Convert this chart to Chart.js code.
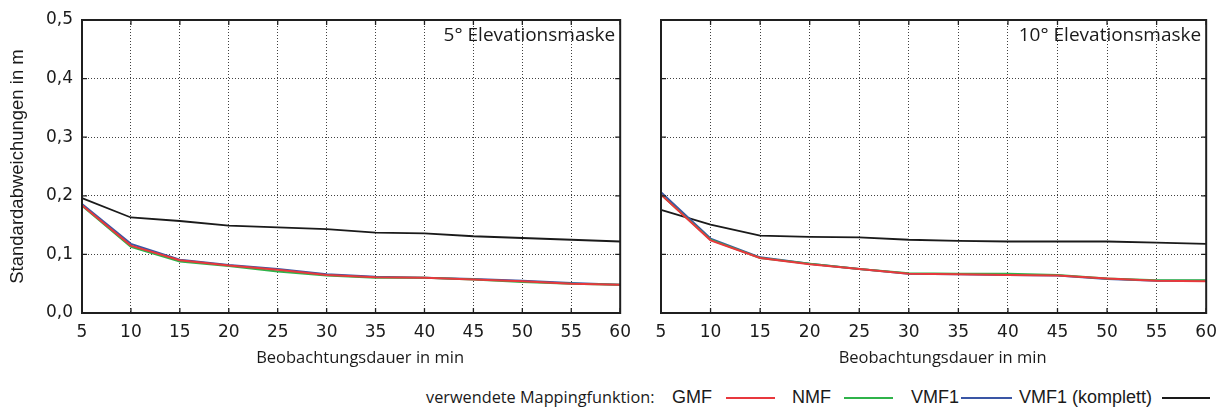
<!DOCTYPE html>
<html><head><meta charset="utf-8">
<script src="https://cdn.jsdelivr.net/npm/chart.js@4.4.1/dist/chart.umd.min.js"></script>
<style>
html,body{margin:0;padding:0;background:#fff;width:1226px;height:409px;overflow:hidden;position:relative}
canvas{position:absolute;top:0}
#c1{left:0}
#c2{left:640px}
.lg{position:absolute;top:386px;line-height:22px;white-space:nowrap;color:#1a1a1a}
.sw{position:absolute;height:2px;top:397px}
</style></head><body>
<canvas id="c1" width="640" height="375"></canvas>
<canvas id="c2" width="586" height="375"></canvas>
<div id="legend"></div>
<script>
// ---- data ----
const minutes = [5, 10, 15, 20, 25, 30, 35, 40, 45, 50, 55, 60];
const yTickLabels = ['0,0', '0,1', '0,2', '0,3', '0,4', '0,5'];
const seriesLabels = ['GMF', 'NMF', 'VMF1', 'VMF1 (komplett)'];
const seriesColors = ['#e8383d', '#2fb34a', '#3a56a5', '#1a1a1a'];
const panelTitles = ['5° Elevationsmaske', '10° Elevationsmaske'];
const legendTitle = 'verwendete Mappingfunktion:';
const xTitle = 'Beobachtungsdauer in min';
const yTitle = 'Standardabweichungen in m';

// 5° elevation mask
const gmf5  = [0.184, 0.115, 0.090, 0.081, 0.074, 0.065, 0.061, 0.060, 0.057, 0.054, 0.050, 0.048];
const nmf5  = [0.183, 0.113, 0.088, 0.080, 0.071, 0.064, 0.060, 0.060, 0.057, 0.053, 0.050, 0.048];
const vmf5  = [0.186, 0.118, 0.091, 0.082, 0.075, 0.066, 0.062, 0.060, 0.058, 0.055, 0.051, 0.048];
const vmfk5 = [0.196, 0.163, 0.157, 0.149, 0.146, 0.143, 0.137, 0.136, 0.131, 0.128, 0.125, 0.122];
// 10° elevation mask
const gmf10  = [0.202, 0.124, 0.094, 0.083, 0.075, 0.067, 0.066, 0.065, 0.064, 0.059, 0.055, 0.054];
const nmf10  = [0.202, 0.125, 0.094, 0.084, 0.075, 0.068, 0.067, 0.067, 0.065, 0.059, 0.056, 0.056];
const vmf10  = [0.206, 0.127, 0.095, 0.084, 0.075, 0.067, 0.066, 0.065, 0.064, 0.058, 0.055, 0.055];
const vmfk10 = [0.176, 0.151, 0.132, 0.130, 0.129, 0.125, 0.123, 0.122, 0.122, 0.122, 0.120, 0.118];

// ---- drawing ----
Chart.defaults.animation = false;

const framePlugin = {
  id: 'frame',
  afterDatasetsDraw(chart, args, opts) {
    const {ctx, chartArea: a, scales: {x, y}} = chart;
    ctx.save();
    ctx.strokeStyle = '#1f1f1f';
    ctx.lineWidth = 1.3;
    ctx.beginPath();
    const tl = 5;
    for (let i = 0; i < x.ticks.length; i++) {
      const px = x.getPixelForTick(i);
      ctx.moveTo(px, a.bottom); ctx.lineTo(px, a.bottom - tl);
      ctx.moveTo(px, a.top); ctx.lineTo(px, a.top + tl);
    }
    for (let i = 0; i < y.ticks.length; i++) {
      const py = y.getPixelForTick(i);
      ctx.moveTo(a.left, py); ctx.lineTo(a.left + tl, py);
      ctx.moveTo(a.right, py); ctx.lineTo(a.right - tl, py);
    }
    ctx.stroke();
    ctx.lineWidth = 2;
    ctx.strokeRect(a.left, a.top, a.right - a.left, a.bottom - a.top);
    ctx.fillStyle = '#1a1a1a';
    ctx.font = '19px "Open Sans"';
    ctx.textAlign = 'right';
    ctx.textBaseline = 'alphabetic';
    ctx.fillText(opts.text, a.right - 5, a.top + 21);
    // x-axis title (slightly right of centre, as in the reference)
    ctx.font = '16.5px "Open Sans"';
    ctx.textAlign = 'center';
    ctx.textBaseline = 'middle';
    ctx.fillText(xTitle, (a.left + a.right) / 2 + 9, a.bottom + 45);
    ctx.restore();
  }
};

function makePanel(id, series, title, showY, padRight, yWidth) {
  const datasets = series.map((vals, i) => ({
    label: seriesLabels[i],
    data: vals,
    borderColor: seriesColors[i],
    backgroundColor: seriesColors[i],
    borderWidth: i === 3 ? 1.8 : 2,
    pointRadius: 0,
    tension: 0,
    fill: false
  }));
  return new Chart(document.getElementById(id), {
    type: 'line',
    data: { labels: minutes.map(String), datasets },
    options: {
      responsive: false,
      animation: false,
      layout: { padding: { top: 20, right: padRight, left: 0, bottom: 0 } },
      plugins: { legend: { display: false }, tooltip: { enabled: false }, frame: { text: title } },
      scales: {
        x: {
          type: 'category',
          offset: false,
          grid: { color: 'rgba(0,0,0,0.75)', lineWidth: 1, drawTicks: false, offset: false },
          border: { display: false, dash: [1, 2] },
          ticks: { color: '#1a1a1a', font: { family: 'DejaVu Sans', size: 17 }, padding: 9, maxRotation: 0, autoSkip: false },
          title: { display: false },
          afterFit: s => { s.height = 62; }
        },
        y: {
          min: 0, max: 0.5,
          grid: { color: 'rgba(0,0,0,0.75)', lineWidth: 1, drawTicks: false },
          border: { display: false, dash: [1, 2] },
          ticks: { display: showY, stepSize: 0.1, color: '#1a1a1a', font: { family: 'DejaVu Sans', size: 17 }, padding: 9,
                   callback: (v, i) => yTickLabels[i] },
          title: { display: showY, text: yTitle, color: '#1a1a1a', font: { family: 'Liberation Sans', size: 18.5 }, padding: { top: 7, bottom: 0 } },
          afterFit: s => { s.width = yWidth; }
        }
      }
    },
    plugins: [framePlugin]
  });
}

makePanel('c1', [gmf5, nmf5, vmf5, vmfk5], panelTitles[0], true, 13, 82);
makePanel('c2', [gmf10, nmf10, vmf10, vmfk10], panelTitles[1], false, 19, 21);

// ---- HTML legend (text before line sample, as in the reference) ----
const legend = document.getElementById('legend');
const legendLayout = [
  { text: 672, line: [726, 775], font: '18px "Liberation Sans"' },
  { text: 792, line: [844, 893], font: '18px "Liberation Sans"' },
  { text: 911, line: [961, 1012], font: '18px "Liberation Sans"' },
  { text: 1019, line: [1162, 1210], font: '18px "Liberation Sans"' }
];
function addText(txt, left, font) {
  const d = document.createElement('div');
  d.className = 'lg'; d.textContent = txt; d.style.left = left + 'px'; d.style.font = font; d.style.lineHeight = '22px';
  legend.appendChild(d);
}
addText(legendTitle, 426, '16.3px "Open Sans"');
seriesLabels.forEach((lab, i) => {
  const L = legendLayout[i];
  addText(lab, L.text, L.font);
  const s = document.createElement('div');
  s.className = 'sw';
  s.style.left = L.line[0] + 'px';
  s.style.width = (L.line[1] - L.line[0]) + 'px';
  s.style.background = seriesColors[i];
  legend.appendChild(s);
});
</script>
</body></html>
